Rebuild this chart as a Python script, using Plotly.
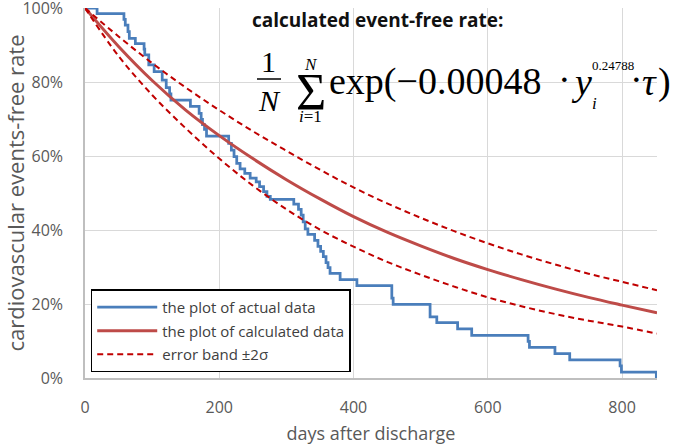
import plotly.graph_objects as go

# ---------------- data ----------------
actual_days = [0, 18, 58, 60, 64, 66, 75, 88, 89, 95, 103, 115, 121, 126, 128,
               157, 170, 173, 175, 178, 181, 214, 218, 222, 226, 231, 238, 246,
               255, 260, 266, 271, 276, 311, 318, 322, 325, 328, 332, 342, 347,
               351, 355, 359, 362, 365, 380, 405, 457, 459, 514, 524, 555, 576,
               660, 662, 700, 722, 797, 799, 851]
actual_rate = [100, 98.5, 96.9, 95.4, 93.6, 91.8, 90.4, 88.9, 87.3, 84.6, 82.8,
               80.5, 78.5, 76.8, 75.1, 73.4, 71.5, 69.9, 68.5, 67.2, 65.4, 63.4,
               61.6, 59.8, 58.0, 56.5, 55.3, 54.0, 53.0, 51.7, 50.4, 49.1, 48.3,
               47.0, 45.6, 44.0, 42.2, 40.3, 38.8, 37.2, 35.6, 34.2, 32.8, 31.2,
               29.8, 28.3, 26.6, 25.0, 21.6, 19.9, 16.5, 15.0, 13.3, 11.5, 9.9,
               8.3, 6.6, 4.9, 3.3, 1.6, 0.0]

model_days = [0, 50, 100, 150, 200, 250, 300, 350, 400, 450, 500, 550, 600,
              650, 700, 750, 800, 852]
calc_rate = [100, 89.6, 80.4, 72.4, 65.5, 59.3, 53.6, 48.4, 43.6, 39.4, 35.7,
             32.3, 29.3, 26.6, 24.1, 21.8, 19.7, 17.6]
upper_rate = [100, 92.3, 85.1, 78.5, 72.4, 66.7, 61.4, 56.3, 51.5, 47.2, 43.3,
              39.7, 36.4, 33.4, 30.7, 28.2, 26.0, 23.7]
lower_rate = [100, 87.0, 76.5, 67.5, 59.3, 52.0, 45.6, 40.1, 35.5, 31.4, 27.9,
              24.7, 21.8, 19.4, 17.3, 15.5, 13.9, 12.0]

x_ticks = [0, 200, 400, 600, 800]
y_ticks = [0, 20, 40, 60, 80, 100]
y_ticktext = ["0%", "20%", "40%", "60%", "80%", "100%"]

legend_names = ["the plot of actual data", "the plot of calculated data",
                "error band \u00b12\u03c3"]

BLUE = "#4a7ebb"
RED = "#be4b48"
DRED = "#c00000"
GRAY = "#595959"

fig = go.Figure()
fig.add_trace(go.Scatter(x=actual_days, y=actual_rate, mode="lines",
                         line=dict(color=BLUE, width=2.75, shape="hv"),
                         name=legend_names[0], legendgroup="a",
                         cliponaxis=False))
fig.add_trace(go.Scatter(x=model_days, y=calc_rate, mode="lines",
                         line=dict(color=RED, width=3, shape="spline"),
                         name=legend_names[1], legendgroup="b"))
fig.add_trace(go.Scatter(x=model_days, y=upper_rate, mode="lines",
                         line=dict(color=DRED, width=2, dash="6px,4px",
                                   shape="spline"),
                         name=legend_names[2], legendgroup="c"))
fig.add_trace(go.Scatter(x=model_days, y=lower_rate, mode="lines",
                         line=dict(color=DRED, width=2, dash="6px,4px",
                                   shape="spline"),
                         name=legend_names[2], legendgroup="c",
                         showlegend=False))

L, R, T, B = 85, 18, 8, 68
W, H = 675, 446
PW, PH = W - L - R, H - T - B


def px(x):
    return (x - L) / PW


def py(y):
    return (H - B - y) / PH


anns = []


def add_text(text, x, y, size, family="Liberation Serif", xanchor="center",
             color="#000000"):
    anns.append(dict(text=text, x=px(x), y=py(y), xref="paper", yref="paper",
                     xanchor=xanchor, yanchor="middle", showarrow=False,
                     font=dict(family=family, size=size, color=color)))


add_text("<b>calculated event-free rate:</b>", 378, 20, 19,
         family="Open Sans", color="#111111")
add_text("1", 268, 62, 30)
add_text("<i>N</i>", 269, 100, 30)
add_text("\u03a3", 311, 92, 52)
add_text("<i>N</i>", 311, 64, 17)
add_text("<i>i</i>=1", 310, 116, 17)
add_text("exp(\u22120.00048", 327, 82, 38, xanchor="left")
add_text("\u00b7", 564, 79, 38)
add_text("<i>y</i>", 581, 82, 38)
add_text("<i>i</i>", 594, 103, 17)
add_text("0.24788", 590, 66, 13, xanchor="left")
add_text("\u00b7", 636, 79, 38)
add_text("<i>\u03c4</i>", 649, 82, 38)
add_text(")", 664, 82, 38)

fig.update_layout(
    width=W, height=H,
    margin=dict(l=L, r=R, t=T, b=B, pad=0, autoexpand=False),
    paper_bgcolor="white", plot_bgcolor="white",
    font=dict(family="Open Sans", color=GRAY),
    annotations=anns,
    shapes=[dict(type="line", xref="paper", yref="paper",
                 x0=px(257), x1=px(281), y0=py(79), y1=py(79),
                 line=dict(color="black", width=1.5))],
    showlegend=True,
    legend=dict(x=0.01, y=0.015, xanchor="left", yanchor="bottom",
                bgcolor="white", bordercolor="#000000", borderwidth=1.5,
                font=dict(family="Open Sans", size=15, color="#404040"),
                traceorder="grouped", tracegroupgap=1, itemwidth=60),
    xaxis=dict(range=[0, 852], tickvals=x_ticks, showgrid=True,
               gridcolor="#d9d9d9", gridwidth=1, showline=True,
               linecolor="#bfbfbf", linewidth=1.5, zeroline=False,
               automargin=False,
               tickfont=dict(size=16, color=GRAY), ticklabelstandoff=14,
               ticklabeloverflow="allow",
               title=dict(text="days after discharge",
                          font=dict(size=18, color=GRAY), standoff=10)),
    yaxis=dict(range=[0, 100], tickvals=y_ticks, ticktext=y_ticktext,
               showgrid=True, gridcolor="#d9d9d9", gridwidth=1,
               showline=True, linecolor="#bfbfbf", linewidth=1.5,
               zeroline=False, automargin=False,
               tickfont=dict(size=16, color=GRAY),
               ticklabelstandoff=17, ticklabeloverflow="allow",
               title=dict(text="cardiovascular events-free rate",
                          font=dict(size=22, color=GRAY), standoff=0)),
)

fig.write_html("out.html",
               config={"displayModeBar": False},
               post_script="document.body.style.margin='0px';"
                           "document.body.style.overflow='hidden';")
